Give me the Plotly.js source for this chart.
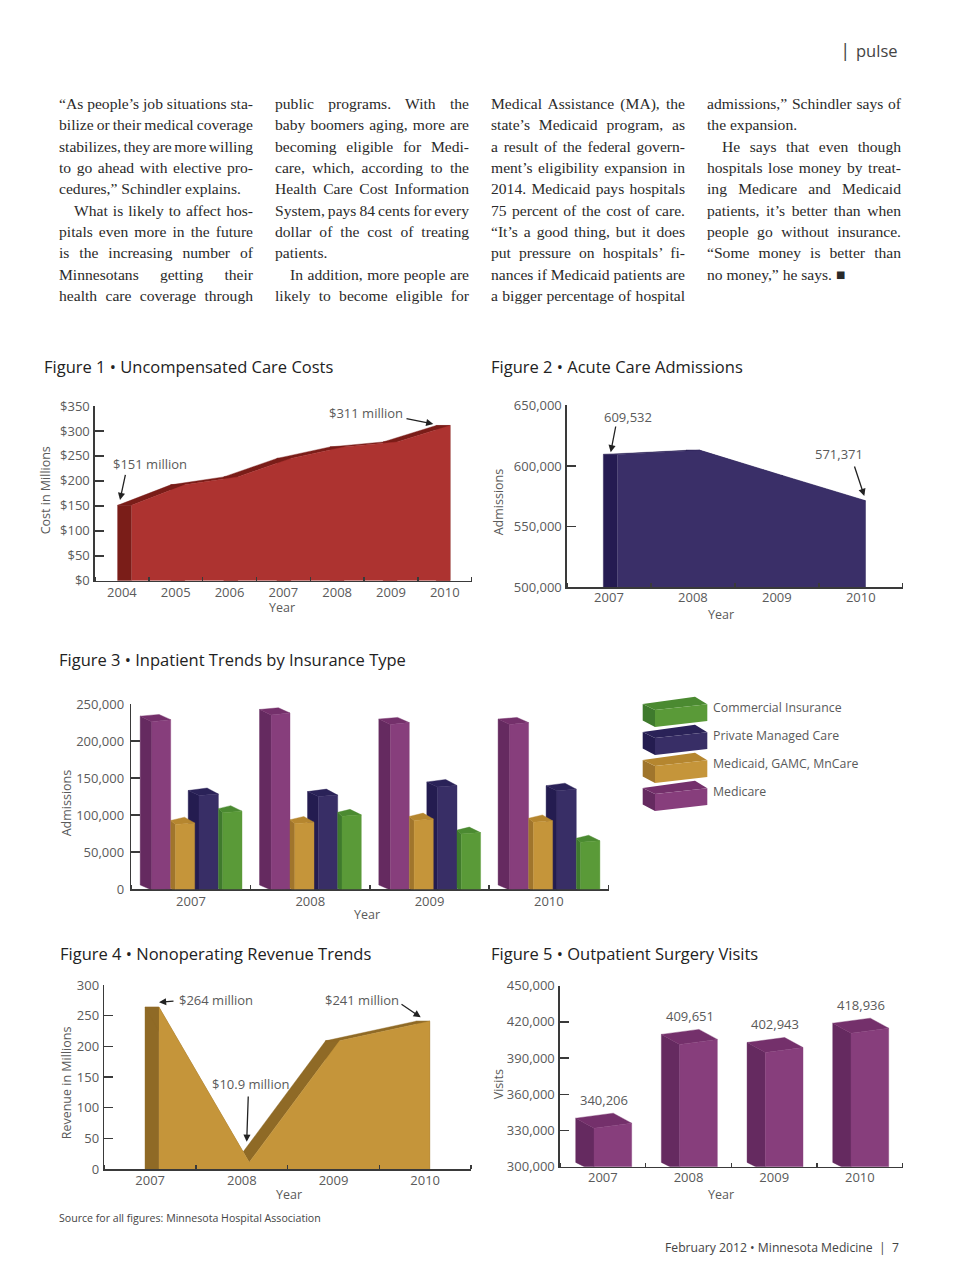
<!DOCTYPE html>
<html><head><meta charset="utf-8">
<script src="https://cdn.plot.ly/plotly-3.0.1.min.js"></script>
<style>html,body{margin:0;padding:0;background:#fff}#chart{width:960px;height:1284px}</style>
</head><body><div id="chart"></div>
<script>
// ---------- data ----------
const fig1Years = [2004,2005,2006,2007,2008,2009,2010];
const fig1Costs = [151,192,208,245,268,278,311];
const fig1Ticks = [0,50,100,150,200,250,300,350];

const fig2Years = [2007,2008,2009,2010];
const fig2Admissions = [609532,612900,592000,571371];
const fig2Ticks = [500000,550000,600000,650000];

const fig3Years = [2007,2008,2009,2010];
const fig3Medicare = [234000,243000,230000,230000];
const fig3Medicaid = [93000,94000,98500,96000];
const fig3Private = [133500,132000,145000,140000];
const fig3Commercial = [109000,104000,80000,69000];
const fig3Ticks = [0,50000,100000,150000,200000,250000];

const fig4Years = [2007,2008,2009,2010];
const fig4Revenue = [264,10.9,209,241];
const fig4Ticks = [0,50,100,150,200,250,300];

const fig5Years = [2007,2008,2009,2010];
const fig5Visits = [340206,409651,402943,418936];
const fig5Ticks = [300000,330000,360000,390000,420000,450000];

const legendNames = ['Commercial Insurance','Private Managed Care','Medicaid, GAMC, MnCare','Medicare'];

const columnLines = [
 [['“As people’s job situations sta-',1,0],['bilize or their medical coverage',1,0],['stabilizes, they are more willing',1,0],['to go ahead with elective pro-',1,0],['cedures,” Schindler explains.',0,0],['What is likely to affect hos-',1,1],['pitals even more in the future',1,0],['is the increasing number of',1,0],['Minnesotans getting their',1,0],['health care coverage through',1,0]],
 [['public programs. With the',1,0],['baby boomers aging, more are',1,0],['becoming eligible for Medi-',1,0],['care, which, according to the',1,0],['Health Care Cost Information',1,0],['System, pays 84 cents for every',1,0],['dollar of the cost of treating',1,0],['patients.',0,0],['In addition, more people are',1,1],['likely to become eligible for',1,0]],
 [['Medical Assistance (MA), the',1,0],['state’s Medicaid program, as',1,0],['a result of the federal govern-',1,0],['ment’s eligibility expansion in',1,0],['2014. Medicaid pays hospitals',1,0],['75 percent of the cost of care.',1,0],['“It’s a good thing, but it does',1,0],['put pressure on hospitals’ fi-',1,0],['nances if Medicaid patients are',1,0],['a bigger percentage of hospital',1,0]],
 [['admissions,” Schindler says of',1,0],['the expansion.',0,0],['He says that even though',1,1],['hospitals lose money by treat-',1,0],['ing Medicare and Medicaid',1,0],['patients, it’s better than when',1,0],['people go without insurance.',1,0],['“Some money is better than',1,0],['no money,” he says. ■',0,0]]
];

// ---------- styling ----------
const W = 960, H = 1284;
const SANS = '"Open Sans", sans-serif', SERIF = '"Liberation Serif", serif';
const AXIS = '#3a3a3a', LABEL = '#5a5a5a';
const PAL = {
  red:{front:'#ad3330',side:'#7a1d18'},
  deep:{front:'#3a2f68',side:'#251b52'},
  tan:{front:'#c5953a',side:'#8f6a26'},
  purple:{front:'#873e7c',side:'#652a60',top:'#74306b'},
  navy:{front:'#382e66',side:'#241c50',top:'#2a2258'},
  gold:{front:'#c5953a',side:'#a0752c',top:'#b5862f'},
  green:{front:'#5a9a38',side:'#3f7a2d',top:'#4b8a31'}
};
const px = x => x / W, py = y => 1 - y / H;

const layout = {
  width:W, height:H, margin:{l:0,r:0,t:0,b:0}, autosize:false,
  paper_bgcolor:'#fff', plot_bgcolor:'rgba(0,0,0,0)', showlegend:false,
  font:{family:SANS,color:LABEL}, annotations:[], shapes:[]
};
const traces = [];
const justifyTargets = {};

function addAxes(n, box, xRange, xTicks, yRange, yTicks, yFmt, opts) {
  const bounds = [];
  for (let v = xRange[0]; v <= xRange[1] + 1e-6; v += 1) bounds.push(v);
  layout['xaxis' + n] = {
    domain:[px(box.l), px(box.r)], range:xRange, anchor:'y' + n, tickmode:'array',
    tickvals:xTicks, ticktext:xTicks.map(String), ticks:'', showline:true, linecolor:AXIS, linewidth:1.6,
    showgrid:false, zeroline:false, tickfont:{family:SANS,size:13,color:LABEL},
    ticklabelstandoff:opts.xStand, layer:opts.layer, fixedrange:true,
    minor:{tickmode:'array', tickvals:bounds, ticks:'inside', ticklen:4, tickwidth:1.5, tickcolor:AXIS, showgrid:false}
  };
  layout['yaxis' + n] = {
    domain:[py(box.b), py(box.t)], range:yRange, anchor:'x' + n, tickmode:'array',
    tickvals:yTicks, ticktext:yTicks.map(yFmt), ticks:'inside', ticklen:9, tickwidth:1.6, tickcolor:AXIS,
    showline:true, linecolor:AXIS, linewidth:1.6, showgrid:false, zeroline:false,
    tickfont:{family:SANS,size:13,color:LABEL}, ticklabelstandoff:opts.yStand, layer:opts.layer, fixedrange:true
  };
}
function note(text, x, y, o) {
  o = o || {};
  const dx = o.xanchor === 'left' ? -2 : (o.xanchor === 'right' ? 2 : 0);
  layout.annotations.push(Object.assign({text, xref:'paper', yref:'paper', x:px(x + dx), y:py(y - 0.7),
    xanchor:'center', yanchor:'middle', showarrow:false, font:{family:SANS,size:13,color:LABEL}}, o));
}
function arrow(x1, y1, x2, y2) {
  layout.annotations.push({text:'', xref:'paper', yref:'paper', x:px(x2), y:py(y2),
    axref:'pixel', ayref:'pixel', ax:x1 - x2, ay:y1 - y2, showarrow:true,
    arrowhead:2, arrowsize:1.1, arrowwidth:1.3, arrowcolor:'#222'});
}
function poly(n, name, xs, ys, color) {
  traces.push({type:'scatter', mode:'lines', xaxis:'x' + n, yaxis:'y' + n, name, x:xs, y:ys,
    fill:'toself', fillcolor:color, line:{color:color,width:0.4}, hoverinfo:'skip'});
}
// Extruded area: the dark depth is swept from the back outline to the front outline.
// Walls and slopes are separate traces because overlapping pieces in one fill would cancel.
function area(n, name, years, values, baseValue, backStart, frontStart, stepK, pal) {
  const back = years.map((y,i) => backStart + i * stepK);
  const front = years.map((y,i) => frontStart + i * stepK);
  const wx = [], wy = [], sx = [], sy = [];
  values.forEach((v,i) => {
    wx.push(back[i],front[i],front[i],back[i],back[i],null);
    wy.push(v,v,baseValue,baseValue,v,null);
    if (i < values.length - 1) {
      sx.push(back[i],front[i],front[i+1],back[i+1],back[i],null);
      sy.push(v,v,values[i+1],values[i+1],v,null);
    }
  });
  poly(n,name,wx,wy,pal.side);
  poly(n,name,sx,sy,pal.side);
  traces.push({type:'scatter', mode:'lines', xaxis:'x' + n, yaxis:'y' + n, name, x:front, y:values,
    fill:'tozeroy', fillcolor:pal.front, line:{color:pal.front,width:0.4}, hoverinfo:'skip'});
}
// 3-D column: geometry in pixels, converted with each subplot's own scale.
function columns(n, name, years, values, xStart, pxPerCat, pxPerVal, yBase, g, pal) {
  const sx = [], sy = [], tx = [], ty = [], fx = [], fy = [];
  years.forEach((yr,i) => {
    const c = xStart + i;
    const X = d => c + d / pxPerCat;
    const top = d => values[i] - d / pxPerVal;
    const bot = d => yBase - d / pxPerVal;
    sx.push(X(g.bl),X(g.fl),X(g.fl),X(g.bl),X(g.bl),null);
    sy.push(top(0),top(g.dFL),bot(g.bFL),bot(g.bBL),top(0),null);
    tx.push(X(g.bl),X(g.br),X(g.fr),X(g.fl),X(g.bl),null);
    ty.push(top(0),top(g.dBR),top(g.dFR),top(g.dFL),top(0),null);
    fx.push(X(g.fl),X(g.fr),X(g.fr),X(g.fl),X(g.fl),null);
    fy.push(top(g.dFL),top(g.dFR),bot(g.bFR),bot(g.bFL),top(g.dFL),null);
  });
  poly(n,name,sx,sy,pal.side); poly(n,name,tx,ty,pal.top); poly(n,name,fx,fy,pal.front);
}

const commas = v => v.toLocaleString('en-US');

// ---------- Figure 1 ----------
addAxes(1,{l:95,r:471.7,t:406,b:580.7},[2003.5,2010.5],fig1Years,[0,350],fig1Ticks,v=>'$'+v,{xStand:-1,yStand:1,layer:'above traces'});
area(1,'Uncompensated care costs',fig1Years,fig1Costs,0,2003.92,2004.18,0.9867,PAL.red);
// ---------- Figure 2 ----------
addAxes(2,{l:567,r:902.7,t:405.3,b:587.3},[2006.5,2010.5],fig2Years,[500000,650000],fig2Ticks,commas,{xStand:-3,yStand:1,layer:'above traces'});
area(2,'Acute care admissions',fig2Years,fig2Admissions,500000,2006.933,2007.1,0.985,PAL.deep);
// ---------- Figure 3 ----------
addAxes(3,{l:131.3,r:608.5,t:704.3,b:889.3},[2006.5,2010.5],fig3Years,[0,250000],fig3Ticks,commas,{xStand:-1,yStand:3,layer:'below traces'});
const f3 = {cat:119.3, val:185/250000};
columns(3,'Medicare',fig3Years,fig3Medicare,2006.5,f3.cat,f3.val,0,{bl:8.9,br:27.8,fl:20.5,fr:39.4,dBR:-1.7,dFL:5.5,dFR:3.5,bBL:-4.3,bFL:0.7,bFR:0},PAL.purple);
columns(3,'Private Managed Care',fig3Years,fig3Private,2006.5,f3.cat,f3.val,0,{bl:56.9,br:75.8,fl:67.7,fr:87.1,dBR:-2.5,dFL:5,dFR:3.5,bBL:-2,bFL:2.3,bFR:1.7},PAL.navy);
columns(3,'Medicaid, GAMC, MnCare',fig3Years,fig3Medicaid,2006.5,f3.cat,f3.val,0,{bl:39.4,br:53.2,fl:44.2,fr:63.4,dBR:-3.3,dFL:4,dFR:2.5,bBL:-1,bFL:2.7,bFR:1.7},PAL.gold);
columns(3,'Commercial Insurance',fig3Years,fig3Commercial,2006.5,f3.cat,f3.val,0,{bl:87.1,br:99.4,fl:91.4,fr:110.7,dBR:-3,dFL:4,dFR:2.5,bBL:-1,bFL:2.7,bFR:1.7},PAL.green);
// ---------- Figure 4 ----------
addAxes(4,{l:104.3,r:471,t:985,b:1169},[2006.5,2010.5],fig4Years,[0,300],fig4Ticks,String,{xStand:-1,yStand:1,layer:'above traces'});
area(4,'Nonoperating revenue',fig4Years,fig4Revenue,0,2006.944,2007.096,0.985,PAL.tan);
// ---------- Figure 5 ----------
addAxes(5,{l:560,r:902.7,t:985.7,b:1166.7},[2006.5,2010.5],fig5Years,[300000,450000],fig5Ticks,commas,{xStand:-2,yStand:1,layer:'below traces'});
columns(5,'Outpatient surgery visits',fig5Years,fig5Visits,2006.5,85.7,181/150000,300000,{bl:15.7,br:53.3,fl:34,fr:71.7,dBR:-5,dFL:10,dFR:5,bBL:-4.3,bFL:5,bFR:0.7},PAL.purple);
fig5Years.forEach((y,i) => layout.annotations.push({text:commas(fig5Visits[i]), xref:'x5', yref:'y5', x:y, y:fig5Visits[i],
  yshift:18, xshift:1, xanchor:'center', yanchor:'middle', showarrow:false, font:{family:SANS,size:13,color:LABEL}}));

// ---------- figure titles ----------
const TITLE = {xanchor:'left', align:'left', font:{family:SANS,size:16.5,color:'#222'}};
note('Figure 1 • Uncompensated Care Costs',44,367,TITLE);
note('Figure 2 • Acute Care Admissions',491,367,TITLE);
note('Figure 3 • Inpatient Trends by Insurance Type',59,660,TITLE);
note('Figure 4 • Nonoperating Revenue Trends',60,954,TITLE);
note('Figure 5 • Outpatient Surgery Visits',491,954,TITLE);

// ---------- axis titles ----------
[[282,608],[721,615],[367,915],[289,1195],[721,1195]].forEach(([x,y]) => note('Year',x,y,{font:{family:SANS,size:12.5,color:LABEL}}));
[['Cost in Millions',45,491],['Admissions',498,503],['Admissions',66,804],['Revenue in Millions',66,1084],['Visits',498,1085]]
  .forEach(([t,x,y]) => note(t,x,y,{textangle:-90,font:{family:SANS,size:12.5,color:LABEL}}));

// ---------- callouts ----------
note('$311 million',365.7,414); arrow(405,418.3,433.3,424);
note('$151 million',150,465);   arrow(125.7,473.3,120,500);
note('609,532',628.3,417.3);    arrow(616,425,610.7,452.3);
note('571,371',839.3,455);      arrow(854,465,864.3,496);
note('$264 million',216,1000.7);arrow(175,1001,159,1002.3);
note('$241 million',361.7,1000.7);arrow(400,1003.3,420.7,1017.3);
note('$10.9 million',250,1084.3);arrow(248.3,1095,246.7,1141.7);

// ---------- legend ----------
[PAL.green,PAL.navy,PAL.gold,PAL.purple].forEach((p,i) => {
  const d = 28 * i;
  const path = pts => pts.map(([x,y],k) => (k ? 'L' : 'M') + px(x) + ',' + py(y + d)).join(' ') + ' Z';
  const shape = (pts,c) => layout.shapes.push({type:'path', xref:'paper', yref:'paper', path:path(pts), fillcolor:c, line:{width:0}});
  shape([[642.7,704],[655,710],[655,727],[642.7,720.5]],p.side);
  shape([[642.7,704],[695,696.7],[707.3,704.3],[655,710]],p.top);
  shape([[655,710],[707.3,704.3],[707.3,721],[655,727]],p.front);
  note(legendNames[i],712.5,708 + d,{xanchor:'left',align:'left',font:{family:SANS,size:12.3,color:LABEL}});
});

// ---------- page text ----------
note('Source for all figures: Minnesota Hospital Association',59,1218.5,{xanchor:'left',align:'left',font:{family:SANS,size:10.6,color:'#444'}});
note('February 2012 • Minnesota Medicine  |  7',899,1248,{xanchor:'right',align:'right',font:{family:SANS,size:12.2,color:'#444'}});
note('|',845,51,{font:{family:SANS,size:19,color:'#444'}});
note('pulse',897.5,51,{xanchor:'right',align:'right',font:{family:SANS,size:16.5,color:'#444'}});

const columnX = [59,275,491,707], COL_W = 194, LINE = 21.33;
columnLines.forEach((lines,c) => lines.forEach(([t,just,indent],i) => {
  const x = columnX[c] + (indent ? 15 : 0);
  if (just) justifyTargets[layout.annotations.length] = COL_W - (indent ? 15 : 0);
  note(t,x,104.3 + LINE * i,{xanchor:'left',align:'left',font:{family:SERIF,size:15.6,color:'#2a2a2a'}});
}));

Plotly.newPlot('chart',traces,layout,{staticPlot:true,displayModeBar:false,responsive:false}).then(() => {
  document.querySelectorAll('.annotation').forEach(a => {
    const target = justifyTargets[a.getAttribute('data-index')];
    if (target === undefined) return;
    const t = a.querySelector('text.annotation-text');
    const spaces = (t.textContent.match(/ /g) || []).length;
    if (spaces) t.style.wordSpacing = ((target - t.getComputedTextLength()) / spaces) + 'px';
  });
});
</script></body></html>
